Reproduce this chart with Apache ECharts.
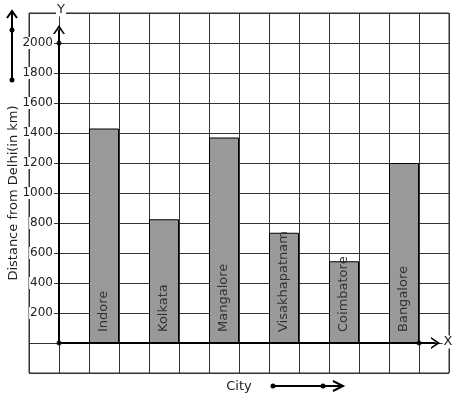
<!DOCTYPE html>
<html>
<head>
<meta charset="utf-8">
<script src="https://cdn.jsdelivr.net/npm/echarts@6/dist/echarts.min.js"></script>
<style>
  html, body { margin: 0; padding: 0; background: #fff; }
  #chart { width: 457px; height: 399px; }
</style>
</head>
<body>
<div id="chart"></div>
<script>
const cities = ['Indore', 'Kolkata', 'Mangalore', 'Visakhapatnam', 'Coimbatore', 'Bangalore'];
const distances = [1430, 825, 1370, 735, 545, 1200];
const yTicks = [200, 400, 600, 800, 1000, 1200, 1400, 1600, 1800, 2000];

const font = 'DejaVu Sans';
const chart = echarts.init(document.getElementById('chart'));

// one bar in every second grid column, starting one column right of the Y axis
const barData = cities.map((c, i) => ({ name: c, value: [1.5 + 2 * i, distances[i]] }));

// open arrow head, pointing up (markLine rotates it along the line)
const chevron = 'path://M0,10 L6,0 L12,10 L10.2,10 L6,3.4 L1.8,10 Z';

// the grid has one spare column / row before zero; axes are shifted onto the zero lines
// by one cell, the visible axis lines are markLines that stop short of the grid edge
const cell = 30;

const option = {
  animation: false,
  grid: {
    left: 29, top: 13, right: 8, bottom: 26,
    outerBoundsMode: 'none',
    show: true, borderColor: '#333', borderWidth: 1
  },
  xAxis: {
    type: 'value',
    min: -1, max: 13, interval: 1,
    offset: -cell,
    name: 'City',
    nameLocation: 'middle',
    nameGap: 37,
    nameTextStyle: { fontFamily: font, fontSize: 13, color: '#222' },
    axisLine: { show: false, onZero: false },
    axisTick: { show: false },
    axisLabel: { show: false },
    splitLine: { show: true, lineStyle: { color: '#333', width: 1 } }
  },
  yAxis: {
    type: 'value',
    min: -200, max: 2200, interval: 200,
    offset: -cell,
    name: 'Distance from Delhi(in km)',
    nameLocation: 'middle',
    nameRotate: 90,
    nameGap: 39,
    nameMoveOverlap: false,
    nameTextStyle: { fontFamily: font, fontSize: 13, color: '#222' },
    axisLine: { show: false, onZero: false },
    axisTick: { show: false },
    axisLabel: {
      margin: 5,
      fontFamily: font, fontSize: 12, color: '#222',
      backgroundColor: '#fff', padding: [0, 1],
      formatter: v => (yTicks.includes(v) ? String(v) : '')
    },
    splitLine: { show: true, lineStyle: { color: '#333', width: 1 } }
  },
  series: [
    {
      type: 'bar',
      barWidth: 30,
      data: barData,
      itemStyle: { color: '#999999', borderColor: '#000', borderWidth: 1 },
      label: {
        show: true,
        position: 'insideBottom',
        distance: 11,
        rotate: 90,
        align: 'left',
        verticalAlign: 'middle',
        formatter: '{b}',
        fontFamily: font, fontSize: 13, color: '#333'
      }
    },
    {
      type: 'scatter',
      symbolSize: 5,
      itemStyle: { color: '#000' },
      z: 5,
      data: [[0, 0], [0, 2000], [12, 0]],
      markLine: {
        silent: true,
        symbol: ['none', chevron],
        symbolSize: [12, 9],
        label: { show: false },
        lineStyle: { color: '#000', width: 2, type: 'solid' },
        data: [
          [{ coord: [0, 0] }, { coord: [12.55, 0] }],
          [{ coord: [0, 0] }, { coord: [0, 2090] }]
        ]
      }
    }
  ],
  graphic: [
    // direction arrow beside the Y axis title
    { type: 'line', z: 100, shape: { x1: 12, y1: 80, x2: 12, y2: 12 }, style: { stroke: '#000', lineWidth: 2 } },
    { type: 'polyline', z: 100, shape: { points: [[7, 18], [12, 11], [17, 18]] }, style: { stroke: '#000', lineWidth: 2, fill: null } },
    { type: 'circle', z: 100, shape: { cx: 12, cy: 30, r: 2.5 }, style: { fill: '#000' } },
    { type: 'circle', z: 100, shape: { cx: 12, cy: 80, r: 2.5 }, style: { fill: '#000' } },
    // direction arrow beside "City"
    { type: 'line', z: 100, shape: { x1: 273, y1: 386, x2: 342, y2: 386 }, style: { stroke: '#000', lineWidth: 2 } },
    { type: 'polyline', z: 100, shape: { points: [[333, 381], [343, 386], [333, 391]] }, style: { stroke: '#000', lineWidth: 2, fill: null } },
    { type: 'circle', z: 100, shape: { cx: 273, cy: 386, r: 2.5 }, style: { fill: '#000' } },
    { type: 'circle', z: 100, shape: { cx: 323, cy: 386, r: 2.5 }, style: { fill: '#000' } },
    // axis letters
    { type: 'text', z: 100, x: 61, y: 10, style: { text: 'Y', font: '13px "DejaVu Sans"', fill: '#222', align: 'center', verticalAlign: 'middle', backgroundColor: '#fff', padding: [0, 1] } },
    { type: 'text', z: 100, x: 448, y: 342, style: { text: 'X', font: '13px "DejaVu Sans"', fill: '#222', align: 'center', verticalAlign: 'middle', backgroundColor: '#fff', padding: [0, 1] } }
  ]
};

chart.setOption(option);
window.addEventListener('resize', () => chart.resize());
</script>
</body>
</html>
